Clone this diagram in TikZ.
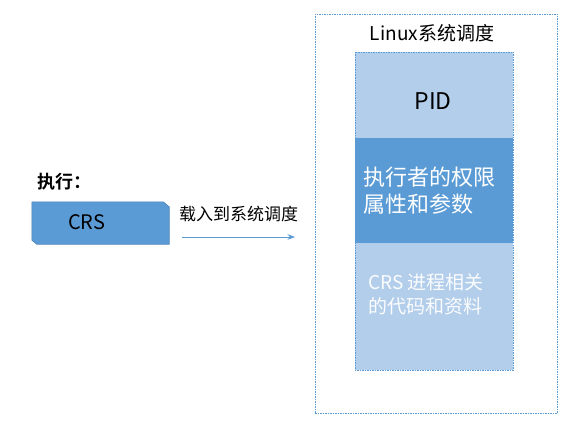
\documentclass[tikz,border=0pt]{standalone}
\usepackage{fontspec}
\setmainfont{Noto Sans CJK SC}[BoldFont=Noto Sans CJK SC Bold]
\usepackage{tikz}
\usetikzlibrary{positioning, arrows.meta}
\usepackage{xcolor}
\definecolor{lightblue}{HTML}{B3CEEA}
\definecolor{midblue}{HTML}{5B9BD5}
\definecolor{edgeblue}{HTML}{4A80B8}

\begin{document}
\begin{tikzpicture}[x=1pt, y=-1pt, >=Stealth,
        dashed border/.style={draw=midblue, line width=0.7pt, dash pattern=on 1.5pt off 1pt},
        section/.style={rectangle, minimum width=158pt, inner sep=0pt, outer sep=0pt},
        light/.style={section, fill=lightblue},
        dark/.style={section, fill=midblue},
        caption/.style={font=\fontsize{#1}{#1}\selectfont, inner sep=0pt},
      ]
      \useasboundingbox (0,0) rectangle (581,428);

      % the program to be run
      \node[caption=18, font=\fontsize{18}{18}\selectfont\bfseries, anchor=west] (exec) at (37,182) {执行：};
      \node[rectangle, inner sep=0pt, minimum width=137pt, minimum height=42pt] (crs) at (100.5,223) {};
      \fill[midblue, draw=edgeblue, line width=0.6pt]
        (crs.north west) -- ([xshift=-6pt]crs.north east) -- ([yshift=-5pt]crs.north east)
        -- (crs.south east) -- ([xshift=5pt]crs.south west) -- ([yshift=4pt]crs.south west) -- cycle;
      \node[caption=20, anchor=west] (crslabel) at (68,222) {CRS};

      % scheduler with its process entry
      \node[dashed border, minimum width=242pt, minimum height=399pt] (sched) at (436,213.5) {};
      \node[caption=19] (schedtitle) at (432,33) {Linux系统调度};

      \node[light, minimum height=86pt] (pid) at (434,95) {};
      \node[dark, minimum height=105pt, below=0pt of pid] (perm) {};
      \node[light, minimum height=127pt, below=0pt of perm] (code) {};
      \draw[dashed border] (pid.north west) rectangle (code.south east);

      \node[caption=23] (pidtext) at (433,101) {PID};
      \node[caption=22, font=\fontsize{22}{27}\selectfont, text=white, align=left,
            anchor=west] (permtext) at ([xshift=8pt]perm.west) {执行者的权限\\属性和参数};
      \node[caption=19, font=\fontsize{19}{24}\selectfont, text=white!95!lightblue, align=left,
            anchor=north west] (codetext) at ([xshift=13pt,yshift=-30pt]code.north west) {CRS 进程相关\\的代码和资料};

      % loading arrow
      \coordinate (loadstart) at (182,237);
      \coordinate (loadend) at (295,237);
      \draw[->, midblue, line width=1pt] (loadstart) -- (loadend)
        node[caption=17, midway, above=15pt, text=black] (loadlabel) {载入到系统调度};
    \end{tikzpicture}
\end{document}
